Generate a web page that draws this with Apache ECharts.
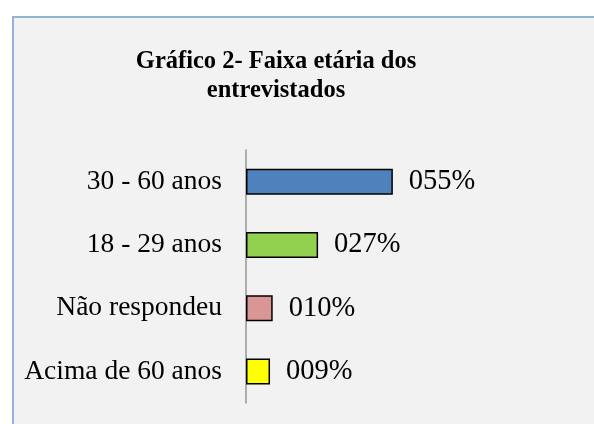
<!DOCTYPE html>
<html>
<head>
<meta charset="utf-8">
<script src="https://cdn.jsdelivr.net/npm/echarts@6/dist/echarts.min.js"></script>
<style>
  html, body { margin: 0; padding: 0; background: #ffffff; }
  #grafico { width: 594px; height: 424px; }
</style>
</head>
<body>
<div id="grafico"></div>
<script>
const categorias = ["30 - 60 anos", "18 - 29 anos", "Não respondeu", "Acima de 60 anos"];
const valores = [55, 27, 10, 9];
const cores = ["#4f81bd", "#92d050", "#d99694", "#ffff00"];

const grafico = echarts.init(document.getElementById("grafico"));

grafico.setOption({
    backgroundColor: "#ffffff",
    animation: false,
    graphic: [{
        type: "rect",
        shape: { x: 13, y: 17, width: 600, height: 420 },
        style: { fill: "#f2f2f2", stroke: "#95b3d7", lineWidth: 2 },
        z: -10
    }],
    title: {
        text: "Gráfico 2- Faixa etária dos\nentrevistados",
        left: 271,
        top: 42,
        textAlign: "center",
        textStyle: {
            fontFamily: "Liberation Serif",
            fontWeight: "bold",
            fontSize: 24.5,
            lineHeight: 29,
            color: "#000000"
        }
    },
    grid: { left: 246, top: 150, width: 267, height: 253 },
    xAxis: {
        type: "value",
        min: 0,
        max: 100,
        show: false
    },
    yAxis: {
        type: "category",
        data: categorias,
        inverse: true,
        axisLine: { show: true, lineStyle: { color: "#969696", width: 1.5 } },
        axisTick: { show: false },
        axisLabel: {
            margin: 24,
            fontFamily: "Liberation Serif",
            fontSize: 27.5,
            color: "#000000"
        }
    },
    series: [{
        type: "bar",
        barWidth: 26,
        data: valores.map(function(v, i) {
            return { value: v, itemStyle: { color: cores[i] } };
        }),
        itemStyle: { borderColor: "#000000", borderWidth: 1.5 },
        label: {
            show: true,
            position: "right",
            distance: 16,
            fontFamily: "Liberation Serif",
            fontSize: 28.5,
            color: "#000000",
            formatter: function(p) {
                return String(p.value).padStart(3, "0") + "%";
            }
        }
    }]
});
</script>
</body>
</html>
